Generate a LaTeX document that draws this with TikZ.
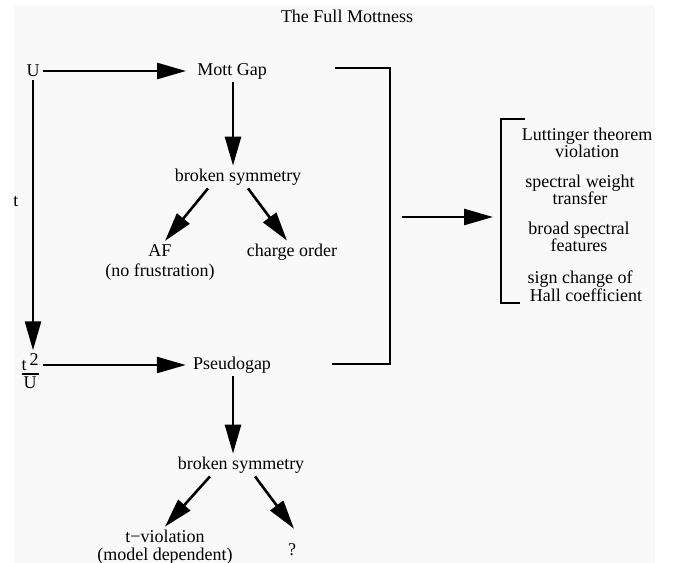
\documentclass[tikz,border=0pt]{standalone}
\usepackage{amsmath}
\usepackage{fontspec}
\setmainfont{Liberation Serif}
\usetikzlibrary{arrows.meta}

\definecolor{bggray}{RGB}{249,249,249}
\newcommand{\txtscl}{\fontsize{18}{16}\selectfont}
\newcommand{\arwlw}{2.6pt}
\newcommand{\tn}{\node[inner sep=3pt, font=\txtscl, align=center]}
\tikzset{
    arw/.style={line width=\arwlw, -{Triangle[length=29pt, width=16pt]}},
    brk/.style={line width=\arwlw},
}

\begin{document}
\begin{tikzpicture}[x=1pt, y=-1pt]
            \useasboundingbox (0,0) rectangle (673,563);
            \fill[bggray] (14,5) rectangle (655,563);

            \tn (title) at (347,16) {The Full Mottness};

            \tn (U) at (33,71) {U};
            \tn (mott) at (232,71) {Mott Gap};
            \tn (bs1) at (238,177) {broken symmetry};
            \tn (af) at (160,262) {AF\\[4pt](no frustration)};
            \tn (co) at (292,252) {charge order};
            \tn (tlbl) at (16,202) {t};
            \tn (tU) at (30,371) {$\genfrac{}{}{2pt}{}{\mbox{t\,\raisebox{5pt}{2}}}{\mbox{U}}$};
            \tn (pseudo) at (232,365) {Pseudogap};
            \tn (bs2) at (241,465) {broken symmetry};
            \tn (tv) at (165,547) {t−violation\\[2pt](model dependent)};
            \tn (q) at (292,550) {?};

            \tn (lut) at (587,143) {Luttinger theorem\\violation};
            \tn (swt) at (580,190) {spectral weight\\transfer};
            \tn (bsf) at (579,237) {broad spectral\\features};
            \tn (hall) at (586,286) {sign change of\hspace*{12pt}\\Hall coefficient};

            \coordinate (jn) at (402,217);
            \coordinate (lb) at (493,217);

            \draw[brk]
                (335,68) -| (390,364) -- (332,364)
                (525,119) -- (501,119) -- (501,303) -- (520,303)
                ;

            \draw[arw] (U.east) -- ([xshift=-8pt]mott.west);
            \draw[arw] (U.south) -- (U.south |- tU.north);
            \draw[arw] (tU.east |- pseudo) -- ([xshift=-4pt]pseudo.west);
            \draw[arw] ([xshift=1pt]mott.south) -- ([xshift=1pt]mott.south |- bs1.north);
            \draw[arw] ([xshift=-30pt]bs1.south) -- ([xshift=5pt]af.north);
            \draw[arw] ([xshift=10pt]bs1.south) -- ([xshift=-5pt]co.north);
            \draw[arw] ([xshift=1pt]pseudo.south) -- ([xshift=1pt]pseudo.south |- bs2.north);
            \draw[arw] ([xshift=-31pt]bs2.south) -- (tv.north);
            \draw[arw] ([xshift=14pt]bs2.south) -- ([xshift=2pt, yshift=12pt]q.north);
            \draw[arw] (jn) -- (lb);
        \end{tikzpicture}
\end{document}
